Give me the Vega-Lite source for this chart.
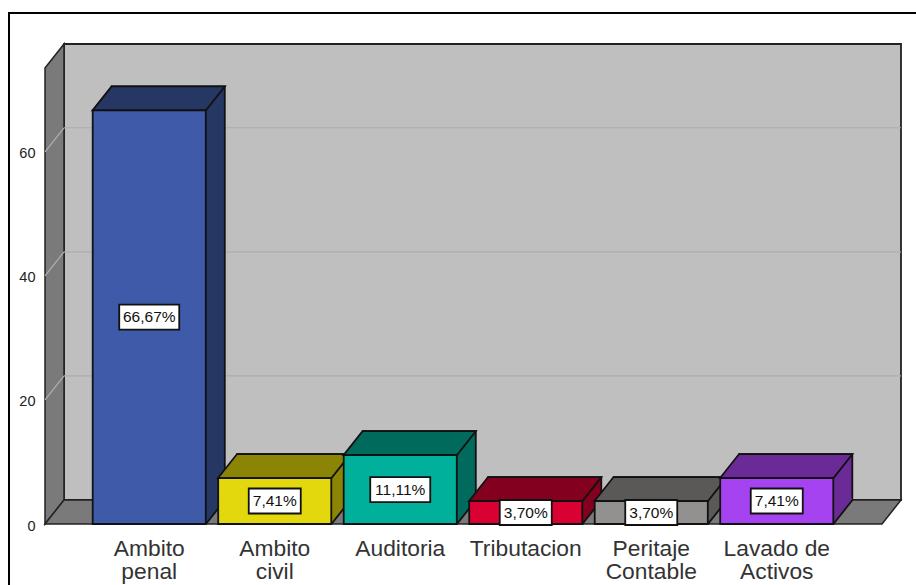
{
"$schema":"https://vega.github.io/schema/vega-lite/v6.json",
"width":916,"height":585,"padding":0,"autosize":{"type":"none"},"background":"#ffffff",
"config":{"view":{"stroke":null},"font":"Liberation Sans",
"axisX":{"orient":"bottom","offset":-61,"domain":false,"ticks":false,"grid":false,"labelAngle":0,"labelFontSize":22.8,"labelColor":"#333333","labelPadding":13,"labelLineHeight":23,"labelLimit":300,"labelOverlap":false,"labelBound":false,"labelFlush":false}},
"datasets":{
"bars":[
{"area":"Ambito penal","value":66.67,"label":"66,67%"},
{"area":"Ambito civil","value":7.41,"label":"7,41%"},
{"area":"Auditoria","value":11.11,"label":"11,11%"},
{"area":"Tributacion","value":3.70,"label":"3,70%"},
{"area":"Peritaje Contable","value":3.70,"label":"3,70%"},
{"area":"Lavado de Activos","value":7.41,"label":"7,41%"}
],
"ticks":[{"v":20},{"v":40},{"v":60}],
"one":[{"v":0}]
},
"resolve":{"scale":{"y":"independent","color":"independent"},"axis":{"y":"independent"}},
"layer":[
{"data":{"name":"one"},"mark":{"type":"point","shape":"M64,44L901,44L901,500L64,500Z","size":4,"opacity":1,"fill":"#bfbfbf","stroke":"#222222","strokeWidth":1.8},"encoding":{"x":{"value":0},"y":{"value":0}}},
{"data":{"name":"one"},"mark":{"type":"point","shape":"M45,68L64,44L64,500L45,524Z","size":4,"opacity":1,"fill":"#7a7a7a","stroke":"#222222","strokeWidth":1.5},"encoding":{"x":{"value":0},"y":{"value":0}}},
{"data":{"name":"one"},"mark":{"type":"point","shape":"M45,524L64,500L901,500L882,524Z","size":4,"opacity":1,"fill":"#7a7a7a","stroke":"#222222","strokeWidth":1.5},"encoding":{"x":{"value":0},"y":{"value":0}}},
{"data":{"name":"one"},"mark":{"type":"point","shape":"M9,590L9,13L920,13","size":4,"opacity":1,"fill":null,"filled":false,"stroke":"#000000","strokeWidth":2},"encoding":{"x":{"value":0},"y":{"value":0}}},
{"data":{"name":"ticks"},"mark":{"type":"rule","color":"#adadad","strokeWidth":1.2,"yOffset":-24},"encoding":{"x":{"value":64},"x2":{"value":901},"y":{"field":"v","type":"quantitative","scale":{"domain":[0,73.5],"range":[524,68]},"axis":null}}},
{"data":{"name":"ticks"},"mark":{"type":"point","shape":"M0,0L19,-24","size":4,"opacity":1,"filled":false,"stroke":"#b0b0b0","strokeWidth":1.2},"encoding":{"x":{"value":45},"y":{"field":"v","type":"quantitative","scale":{"domain":[0,73.5],"range":[524,68]},"axis":{"values":[0,20,40,60],"orient":"left","offset":-45,"title":null,"domain":false,"ticks":false,"grid":false,"labelFontSize":14.5,"labelColor":"#222222","labelPadding":10,"labelOffset":2}}}},
{"data":{"name":"bars"},"mark":{"type":"bar","xOffset":19,"yOffset":-24,"stroke":"#111111","strokeWidth":1.8,"opacity":1},
"encoding":{"x":{"field":"area","type":"nominal","sort":null,"title":null,"scale":{"range":[92.7,833.3],"paddingInner":0.099,"paddingOuter":0},"axis":{"labelExpr":"datum.label == 'Lavado de Activos' ? ['Lavado de','Activos'] : split(datum.label,' ')"}},
"y":{"field":"value","type":"quantitative","scale":{"domain":[0,73.5],"range":[524,68]},"axis":null},
"color":{"field":"area","type":"nominal","sort":null,"legend":null,"scale":{"range":["#263763","#8c8405","#006b5d","#83001f","#5a5958","#6a2b96"]}}}},
{"data":{"name":"bars"},"mark":{"type":"point","shape":"M56.7,0L75.7,-24L75.2,-25.5L56.7,-25.5Z","size":4,"opacity":1,"filled":true},
"encoding":{"x":{"field":"area","type":"nominal","sort":null,"title":null,"axis":{"labelExpr":"datum.label == 'Lavado de Activos' ? ['Lavado de','Activos'] : split(datum.label,' ')"}},
"y":{"datum":0,"scale":{"domain":[0,73.5],"range":[524,68]},"axis":null},
"color":{"field":"area","type":"nominal","sort":null,"legend":null,"scale":{"range":["#263763","#8c8405","#006b5d","#83001f","#5a5958","#6a2b96"]}}}},
{"data":{"name":"bars"},"mark":{"type":"point","shape":"M56.7,0L75.7,-24","size":4,"opacity":1,"filled":false,"stroke":"#111111","strokeWidth":1.8},
"encoding":{"x":{"field":"area","type":"nominal","sort":null,"title":null,"axis":{"labelExpr":"datum.label == 'Lavado de Activos' ? ['Lavado de','Activos'] : split(datum.label,' ')"}},
"y":{"datum":0,"scale":{"domain":[0,73.5],"range":[524,68]},"axis":null}}},
{"data":{"name":"bars"},"mark":{"type":"point","shape":"M-56.7,0L56.7,0L75.7,-24L-37.7,-24Z","size":4,"opacity":1,"filled":true,"stroke":"#111111","strokeWidth":1.8},
"encoding":{"x":{"field":"area","type":"nominal","sort":null,"title":null,"axis":{"labelExpr":"datum.label == 'Lavado de Activos' ? ['Lavado de','Activos'] : split(datum.label,' ')"}},
"y":{"field":"value","type":"quantitative","scale":{"domain":[0,73.5],"range":[524,68]},"axis":null},
"color":{"field":"area","type":"nominal","sort":null,"legend":null,"scale":{"range":["#263763","#8c8405","#006b5d","#83001f","#5a5958","#6a2b96"]}}}},
{"data":{"name":"bars"},"mark":{"type":"bar","stroke":"#111111","strokeWidth":1.8,"opacity":1},
"encoding":{"x":{"field":"area","type":"nominal","sort":null,"title":null,"axis":{"labelExpr":"datum.label == 'Lavado de Activos' ? ['Lavado de','Activos'] : split(datum.label,' ')"}},
"y":{"field":"value","type":"quantitative","scale":{"domain":[0,73.5],"range":[524,68]},"axis":null},
"color":{"field":"area","type":"nominal","sort":null,"legend":null,"scale":{"range":["#3e5aa8","#e3d80d","#00b09a","#d90032","#939190","#a643f0"]}}}},
{"data":{"name":"bars"},"mark":{"type":"point","size":4,"opacity":1,"filled":true,"fill":"#ffffff","stroke":"#111111","strokeWidth":1.8},
"encoding":{"x":{"field":"area","type":"nominal","sort":null,"title":null,"axis":{"labelExpr":"datum.label == 'Lavado de Activos' ? ['Lavado de','Activos'] : split(datum.label,' ')"}},
"y":{"field":"value","type":"quantitative","scale":{"domain":[0,147],"range":[524,68]},"axis":null},
"shape":{"field":"label","type":"nominal","legend":null,"scale":{"domain":["66,67%","11,11%","7,41%","3,70%"],"range":["M-30,-12.5L30,-12.5L30,12.5L-30,12.5Z","M-30,-12.5L30,-12.5L30,12.5L-30,12.5Z","M-26,-12.5L26,-12.5L26,12.5L-26,12.5Z","M-26,-12.5L26,-12.5L26,12.5L-26,12.5Z"]}}}},
{"data":{"name":"bars"},"mark":{"type":"text","fontSize":15.5,"color":"#111111","align":"center","baseline":"middle"},
"encoding":{"x":{"field":"area","type":"nominal","sort":null,"title":null,"axis":{"labelExpr":"datum.label == 'Lavado de Activos' ? ['Lavado de','Activos'] : split(datum.label,' ')"}},
"y":{"field":"value","type":"quantitative","scale":{"domain":[0,147],"range":[524,68]},"axis":null},
"text":{"field":"label","type":"nominal"}}}
]
}
